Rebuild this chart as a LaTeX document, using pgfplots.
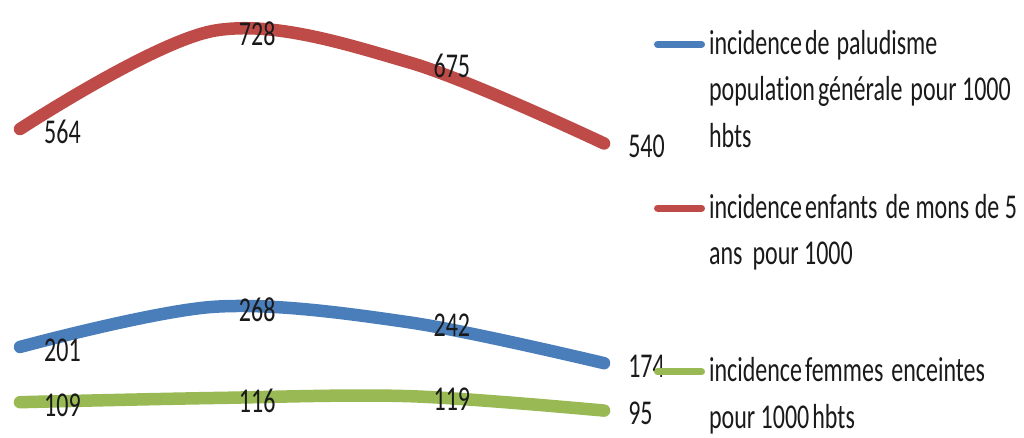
\documentclass[border=0pt]{standalone}
\usepackage{pgfplots}
\pgfplotsset{compat=1.18}
\usepackage{fontspec}
\setmainfont{Carlito}[Ligatures=NoCommon]
\usepackage{graphicx}

\definecolor{serBlue}{HTML}{4A7EBB}
\definecolor{serRed}{HTML}{BE4B48}
\definecolor{serGreen}{HTML}{98B954}
\definecolor{txt}{HTML}{1A1A1A}

% tall, narrow text as in the original sheet
\newcommand\tall[1]{\scalebox{1}[1.45]{#1}}
\newcommand\lgtext[1]{\tall{\begin{tabular}[b]{@{}l@{}}#1\end{tabular}}}
% legend line raised to the first text line of a multi-line entry
\newcommand\lgline[1]{\draw[line width=7pt, line cap=round] (0pt,#1) -- (44pt,#1);}

\begin{document}
\begin{tikzpicture}
\useasboundingbox (0,0) rectangle (1024pt,437pt);
\begin{axis}[
  at={(0,0)}, anchor=south west,
  scale only axis, width=1024pt, height=437pt,
  hide axis, clip=false,
  xmin=-0.1027, xmax=5.157, ymin=51, ymax=779,
  font=\fontsize{24}{32}\selectfont,
  /pgf/number format/assume math mode=true,
  every axis plot/.append style={line width=12.5pt, line cap=round, line join=round, smooth, tension=0.55},
  nodes near coords={\tall{\pgfmathprintnumber{\pgfplotspointmeta}}},
  nodes near coords style={anchor=west, inner sep=0pt, xshift=18pt, yshift=-3pt, text=txt, font=\fontsize{24}{32}\selectfont},
  legend cell align=left,
  legend style={at={(rel axis cs:0.6387,0.9500)}, anchor=north west,
    draw=none, fill=none, inner sep=0pt, outer sep=0pt,
    column sep=4pt, row sep=37pt,
    cells={anchor=base west},
    nodes={inner sep=0pt, text=txt, font=\fontsize{24}{32}\selectfont}},
]
\addplot[serBlue, legend image code/.code={\lgline{102.8pt}}] coordinates {(0,201) (1,268) (2,242) (3,174)};
\addlegendentry{\lgtext{incidence\hspace{3pt}de\hspace{7pt}paludisme\\population\hspace{3pt}générale\hspace{8pt}pour 1000\\hbts}}
\addplot[serRed, legend image code/.code={\lgline{102.8pt}}] coordinates {(0,564) (1,728) (2,675) (3,540)};
\addlegendentry{\lgtext{incidence\hspace{3pt}enfants\hspace{8pt}de mons de 5\\ans\hspace{10pt}pour 1000\\\mbox{}}}
\addplot[serGreen, legend image code/.code={\lgline{56.4pt}}] coordinates {(0,109) (1,116) (2,119) (3,95)};
\addlegendentry{\lgtext{incidence\hspace{3pt}femmes\hspace{8pt}enceintes\\pour 1000\hspace{3pt}hbts}}
\end{axis}
\end{tikzpicture}
\end{document}
